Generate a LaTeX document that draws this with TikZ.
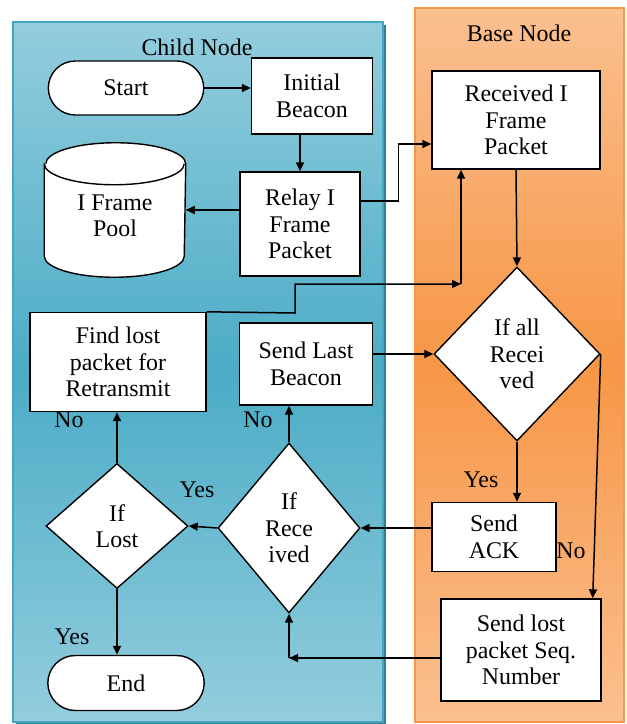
\documentclass[tikz,border=0pt]{standalone}
\usepackage{fontspec}
\setmainfont{Liberation Serif}
\usetikzlibrary{shapes.geometric,shapes.misc,arrows.meta}

\definecolor{aqualight}{HTML}{93CDDD}
\definecolor{aquamid}{HTML}{4BACC6}
\definecolor{aquaedge}{HTML}{45A6C1}
\definecolor{aquashadow}{HTML}{2F7F96}
\definecolor{peachlight}{HTML}{FAC090}
\definecolor{peachmid}{HTML}{F79646}

\begin{document}
\begin{tikzpicture}[x=1bp, y=-1bp,
  every node/.style={font=\fontsize{24}{26.5}\selectfont, align=center},
  box/.style={draw, fill=white, line width=1.4bp, inner sep=2bp},
  term/.style={draw, fill=white, line width=1.4bp, rounded rectangle,
    minimum width=162bp, minimum height=54bp},
  decision/.style={draw, fill=white, line width=1.4bp, diamond, inner sep=0bp},
  >={Triangle[length=9bp,width=8bp]},
  every path/.append style={line width=1.5bp}]
\useasboundingbox (0,0) rectangle (627,724);

% lanes
\fill[aquashadow] (16,25) rectangle (386,724);
\shadedraw[top color=aqualight, bottom color=aqualight, middle color=aquamid,
  draw=aquaedge, line width=1.5bp] (13,22) rectangle (383,722);
\shadedraw[top color=peachlight, bottom color=peachlight, middle color=peachmid,
  draw=peachmid, line width=1.5bp] (415,8) rectangle (624,722);
\node (childlbl) at (197,47) {Child Node};
\node (baselbl) at (519,33) {Base Node};

% child side
\node[term] (start) at (126,88) {Start};
\node[box, minimum width=121bp, minimum height=76bp] (init) at (312,96) {Initial\\Beacon};
\node[box, minimum width=120bp, minimum height=104bp] (relay) at (300,224) {Relay I\\Frame\\Packet};

% pool drawn as a cylinder
\node[minimum width=140bp, minimum height=133bp, inner sep=0bp] (pool) at (115,210) {};
\draw[fill=white, line width=1.4bp] ([yshift=-21bp]pool.north west) -- ([yshift=21bp]pool.south west)
  arc[start angle=180, end angle=360, x radius=70bp, y radius=21bp]
  -- ([yshift=-21bp]pool.north east)
  arc[start angle=0, end angle=180, x radius=70bp, y radius=21bp];
\draw[line width=1.4bp] ([yshift=-21bp]pool.north west)
  arc[start angle=180, end angle=360, x radius=70bp, y radius=21bp];
\node (pooltxt) at (115,216) {I Frame\\Pool};

\node[box, minimum width=176bp, minimum height=99bp] (find) at (118,362) {Find lost\\packet for\\Retransmit};
\node[box, minimum width=133bp, minimum height=82bp] (last) at (306,364) {Send Last\\Beacon};
\node[decision, minimum width=142bp, minimum height=125bp] (iflost) at (117,526) {If\\Lost};
\node[decision, minimum width=142bp, minimum height=170bp] (ifrecv) at (289,528) {If\\Rece\\ived};
\node[term, minimum width=163bp, minimum height=55bp] (end) at (126,683) {End};

% base side
\node[box, minimum width=168bp, minimum height=98bp] (recv) at (516,120) {Received I\\Frame\\Packet};
\node[decision, minimum width=166bp, minimum height=174bp] (allrecv) at (517,354) {If all\\Recei\\ved};
\node[box, minimum width=124bp, minimum height=69bp] (ack) at (494,537) {Send\\ACK};
\node[box, minimum width=160bp, minimum height=102bp] (lost) at (521,650) {Send lost\\packet Seq.\\Number};

% flow
\draw[->] (start.east) -- (start.east -| init.west);
\draw[->] (init.south -| relay) -- (relay);
\draw[->] (relay.west |- pool.east) -- (pool.east);
\draw[->] ([yshift=23bp]relay.east) -- ++(38bp,0) |- ([yshift=-24bp]recv.west);
\draw[->] (recv.south) -- (allrecv.north);

\coordinate (riser) at (461,284);
\draw[->] (find.north east) -- (295,313) |- (riser);
\draw[->] (riser) -- (riser |- recv.south);

\draw[->] (last.east |- allrecv.west) -- (allrecv.west);
\draw[->] (allrecv.south) -- (allrecv.south |- ack.north);
\draw[->] (allrecv.east) -- ([xshift=-9bp]lost.north east);
\draw[->] (ack.west |- ifrecv.east) -- (ifrecv.east);
\draw[->] (ifrecv.west) -- (iflost.east);
\draw[->] (ifrecv.north) -- (ifrecv.north |- last.south);
\draw[->] (iflost.north) -- (iflost.north |- find.south);
\draw[->] (iflost.south) -- (iflost.south |- end.north);

\coordinate (drop) at (289,658);
\draw[->] (lost.west |- drop) -- (drop);
\draw[->] (drop) -- (ifrecv.south);

% branch labels
\node (yesall) at (481,480) {Yes};
\node (noall) at (571,551) {No};
\node (yesrecv) at (197,490) {Yes};
\node (norecv) at (258,420) {No};
\node (nolost) at (69,420) {No};
\node (yeslost) at (72,637) {Yes};
\end{tikzpicture}
\end{document}
